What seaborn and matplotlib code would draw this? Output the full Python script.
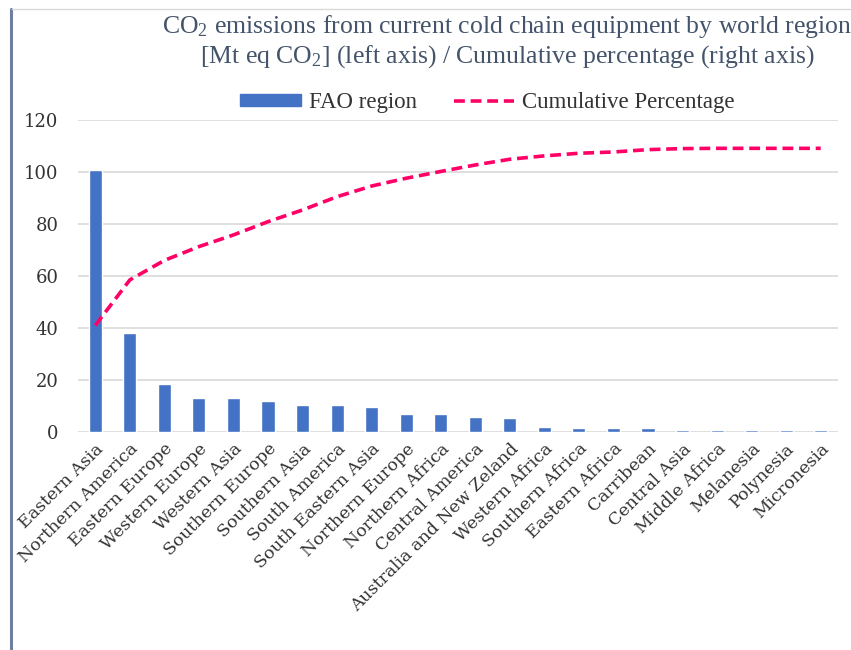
import matplotlib
matplotlib.use("Agg")
import matplotlib.pyplot as plt
from matplotlib.lines import Line2D
from matplotlib.patches import Patch
import numpy as np
import pandas as pd
import seaborn as sns

regions = ["Eastern Asia", "Northern America", "Eastern Europe", "Western Europe",
           "Western Asia", "Southern Europe", "Southern Asia", "South America",
           "South Eastern Asia", "Northern Europe", "Northern Africa", "Central America",
           "Australia and New Zeland", "Western Africa", "Southern Africa", "Eastern Africa",
           "Carribean", "Central Asia", "Middle Africa", "Melanesia", "Polynesia", "Micronesia"]
emissions = [100.6, 38.0, 18.3, 13.0, 13.0, 11.9, 10.4, 10.4, 9.5, 6.8, 6.8, 5.6,
             5.2, 2.1, 1.4, 1.4, 1.4, 0.7, 0.7, 0.7, 0.7, 0.7]
cumulative = [41.0, 58.5, 66.0, 71.3, 75.8, 80.9, 85.4, 90.5, 94.6, 97.6, 100.2, 102.7,
              104.9, 106.2, 107.2, 107.7, 108.6, 109.0, 109.1, 109.1, 109.1, 109.1]
yticks = [0, 20, 40, 60, 80, 100, 120]

df = pd.DataFrame({"region": regions, "emissions": emissions})

sns.set_theme(style="white")
plt.rcParams["font.family"] = ["DejaVu Serif"]
plt.rcParams["mathtext.fontset"] = "custom"
plt.rcParams["mathtext.rm"] = "Liberation Serif"
plt.rcParams["mathtext.default"] = "rm"

BAR = "#4472C4"
LINE = "#FF0066"
TXT = "#333333"

fig = plt.figure(figsize=(8.51, 6.5), dpi=100)
ax = fig.add_axes([0.0917, 0.3354, 0.893, 0.48])

sns.barplot(data=df, x="region", y="emissions", color=BAR, width=0.38,
            saturation=1, ax=ax, order=regions)
sns.lineplot(x=np.arange(len(regions)), y=cumulative, ax=ax, color=LINE,
             linewidth=2.6, sort=False)
ax.lines[-1].set_dashes((3, 1.6))

ax.set_ylim(0, 120)
ax.set_xlim(-0.5, len(regions) - 0.5)
ax.set_yticks(yticks)
ax.set_yticklabels([str(t) for t in yticks], fontsize=13, color=TXT)
ax.set_xticks(range(len(regions)))
ax.set_xticklabels(regions, rotation=45, ha="right", rotation_mode="anchor",
                   fontsize=12.5, color=TXT)
ax.tick_params(axis="x", length=0, pad=6)
ax.tick_params(axis="y", length=0, pad=14)
ax.set_xlabel("")
ax.set_ylabel("")
ax.yaxis.grid(True, color="#D9D9D9", linewidth=1.2)
ax.set_axisbelow(True)
for s in ax.spines.values():
    s.set_visible(False)

handles = [Patch(facecolor=BAR, edgecolor=BAR, label="FAO region"),
           Line2D([0], [0], color=LINE, linewidth=2.6, dashes=(3, 1.6),
                  label="Cumulative Percentage")]
fig.legend(handles=handles, loc="center", bbox_to_anchor=(0.573, 0.842), ncol=2,
           frameon=False, handlelength=2.65, handleheight=0.45, columnspacing=1.6,
           handletextpad=0.35,
           prop={"family": "Liberation Serif", "size": 16.5})
for t in fig.legends[0].get_texts():
    t.set_color(TXT)

fig.text(0.596, 1 - 27 / 650, "CO$_2$ emissions from current cold chain equipment by world region",
         ha="center", va="center", fontsize=18.5, color="#44546A", family="Liberation Serif")
fig.text(0.596, 1 - 57 / 650, "[Mt eq CO$_2$] (left axis) / Cumulative percentage (right axis)",
         ha="center", va="center", fontsize=18.5, color="#44546A", family="Liberation Serif")

fig.add_artist(Line2D([11 / 851, 11 / 851], [0, 1 - 9 / 650], color="#6F7FA0",
                      linewidth=2.2, transform=fig.transFigure))
fig.add_artist(Line2D([12 / 851, 1], [1 - 9 / 650, 1 - 9 / 650], color="#D9D9D9",
                      linewidth=1.0, transform=fig.transFigure))

fig.savefig("out.png", dpi=100)
